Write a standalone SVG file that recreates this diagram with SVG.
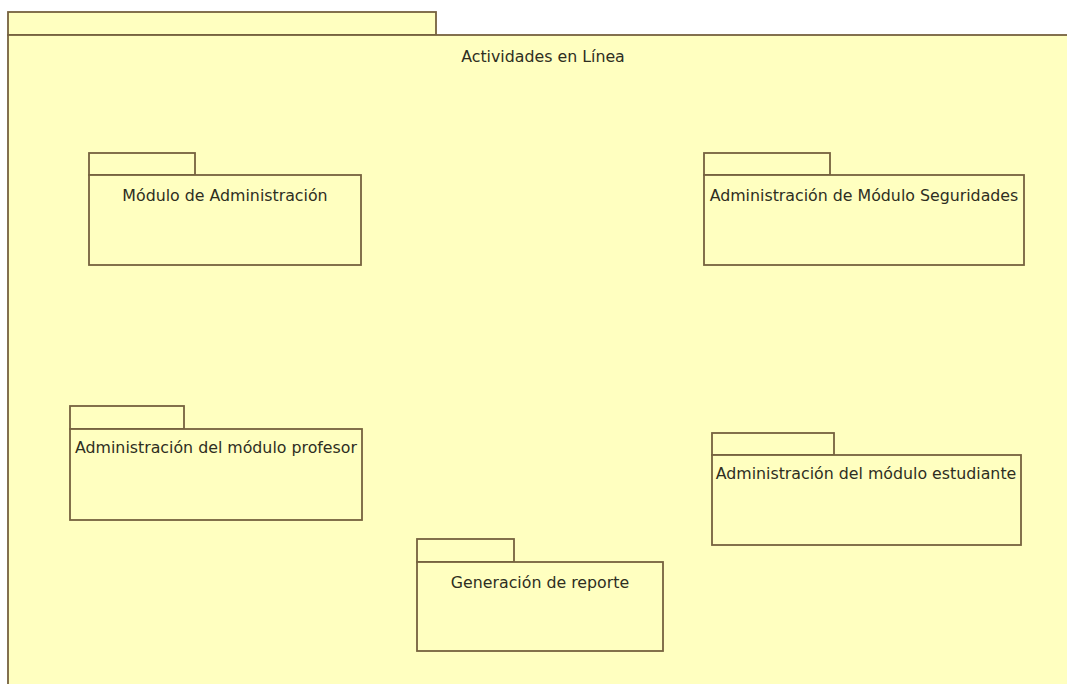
<svg xmlns="http://www.w3.org/2000/svg" width="1067" height="684" viewBox="0 0 1067 684">
  <style>
    .pkg { fill: #FFFFC0; stroke: #76623F; stroke-width: 1.8; }
    .lbl { font-family: "DejaVu Sans", Verdana, sans-serif; font-size: 15.8px; fill: #2E2E22; text-anchor: middle; }
  </style>
  <rect x="0" y="0" width="1067" height="684" fill="#FFFFFF"/>

  <!-- outer package: Actividades en Línea -->
  <g id="actividades-en-linea">
    <rect class="pkg" x="8" y="12" width="428" height="23"/>
    <rect class="pkg" x="8" y="35" width="1080" height="670"/>
    <text class="lbl" x="543" y="62">Actividades en Línea</text>
  </g>

  <g id="modulo-administracion">
    <rect class="pkg" x="89" y="153" width="106" height="22"/>
    <rect class="pkg" x="89" y="175" width="272" height="90"/>
    <text class="lbl" x="225" y="201">Módulo de Administración</text>
  </g>

  <g id="admin-modulo-seguridades">
    <rect class="pkg" x="704" y="153" width="126" height="22"/>
    <rect class="pkg" x="704" y="175" width="320" height="90"/>
    <text class="lbl" x="864" y="201">Administración de Módulo Seguridades</text>
  </g>

  <g id="admin-modulo-profesor">
    <rect class="pkg" x="70" y="406" width="114" height="23"/>
    <rect class="pkg" x="70" y="429" width="292" height="91"/>
    <text class="lbl" x="216" y="453">Administración del módulo profesor</text>
  </g>

  <g id="admin-modulo-estudiante">
    <rect class="pkg" x="712" y="433" width="122" height="22"/>
    <rect class="pkg" x="712" y="455" width="309" height="90"/>
    <text class="lbl" x="866" y="479">Administración del módulo estudiante</text>
  </g>

  <g id="generacion-reporte">
    <rect class="pkg" x="417" y="539" width="97" height="23"/>
    <rect class="pkg" x="417" y="562" width="246" height="89"/>
    <text class="lbl" x="540" y="588">Generación de reporte</text>
  </g>

  <!-- no dependencies are drawn between the packages -->
  <g id="connectors"/>
</svg>
